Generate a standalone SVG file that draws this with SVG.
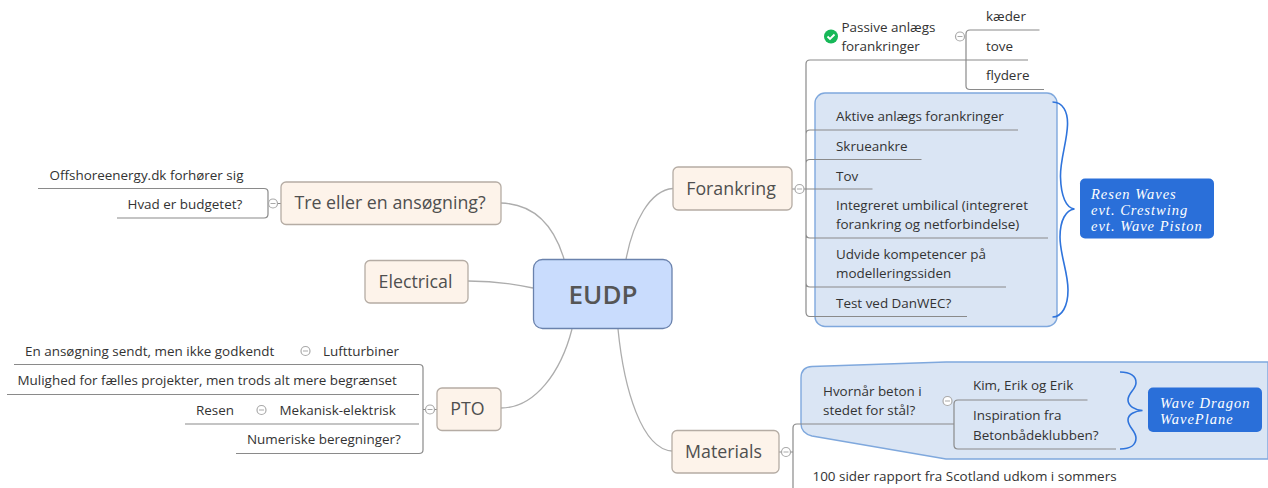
<svg xmlns="http://www.w3.org/2000/svg" width="1268" height="488" viewBox="0 0 1268 488">
<style>
text{font-family:"Open Sans","Noto Sans","Liberation Sans",sans-serif;fill:#333;font-size:13.45px}
.topic{fill:#fdf3ea;stroke:#b5aca4;stroke-width:1.3}
.tt{font-size:17.8px;fill:#4f4f4f;text-anchor:middle}
.line{fill:none;stroke:#8a8a8a;stroke-width:1.2}
.curve{fill:none;stroke:#adadad;stroke-width:1.3}
.col{fill:#fff;stroke:#a9a9a9;stroke-width:1.2}
.dash{stroke:#a9a9a9;stroke-width:1}
.bound{fill:#dae5f4;stroke:#7fa8dd;stroke-width:1.4}
.brace{fill:none;stroke:#2f74dc;stroke-width:1.6}
.sum{fill:#2a6fd9}
.st{font-family:"Liberation Serif",serif;font-style:italic;font-size:14.5px;fill:#fff;letter-spacing:1px}
</style>
<g id="boundaries">
<rect class="bound" x="815" y="93" width="242" height="233.500" rx="10"/>
<path class="bound" d="M812 366.500L946 362H1268V459H946L812 436Q801 433 801 424V378Q801 367 812 366.500Z"/>
</g>
<g id="connectors">
<path class="curve" d="M501 203C535 204 554 226 564 259"/>
<path class="curve" d="M673 188.500C650 190 633 222 626 259.500"/>
<path class="curve" d="M468 281C495 281 515 284 533 288"/>
<path class="curve" d="M501 408C535 408 561 372 572 329"/>
<path class="curve" d="M672 451C642 449 624 390 618 329"/>
<path class="line" d="M38 188.500H264Q268 188.500 268 192V214Q268 218 264 218H117M268 203.500H281"/>
<path class="line" d="M14 364.500H419Q423 364.500 423 368V450Q423 453.500 419 453.500H236M7 394.500H419M185 424H419M423 409.500H437"/>
<path class="line" d="M1028 60H810Q806 60 806 64V312Q806 316.500 810 316.500H967M1018 130H810Q806 130 806 134M921.500 159.500H810Q806 159.500 806 163M872.500 189H792M1048 238H810Q806 238 806 234M1006 287H810Q806 287 806 283"/>
<path class="line" d="M1039.500 30H970Q966 30 966 34V86Q966 89.500 970 89.500H1044"/>
<path class="line" d="M779 452H793M954 424H797Q793 424 793 428V488M1087.500 400H958Q954 400 954 404V445Q954 449 958 449H1116"/>
<path class="brace" d="M1052.500 102C1063 102 1068 112 1067.500 125C1067 142 1060 160 1060.500 177C1061 196 1066 208 1074.500 209C1066 210 1060 220 1060 237C1060 255 1068 272 1068 290C1068 306 1062 317 1052.500 317"/>
<path class="brace" d="M1120 372C1130 372 1136.500 376 1136 383C1135.500 390 1128 393 1128 400C1128 406 1135 410 1142.500 410.500C1135 411 1128 414 1128 420C1128 427 1136 431 1136 438C1136 445 1130 449 1120 449"/>
</g>
<g id="EUDP"><rect x="533.500" y="259.500" width="138.500" height="69" rx="9" fill="#c9dcfd" stroke="#6a82ad" stroke-width="1.300"/><text x="603" y="303.500" text-anchor="middle" style="font-size:26px;font-weight:600;fill:#555">EUDP</text></g>
<g id="tre"><rect class="topic" x="281" y="182" width="220" height="42.500" rx="5"/><text class="tt" x="390" y="209">Tre eller en ansøgning?</text>
<circle class="col" cx="273" cy="203.500" r="4.500"/><path class="dash" d="M270.500 203.500h5"/>
<text x="49.500" y="179.500">Offshoreenergy.dk forhører sig</text><text x="127.500" y="208.500">Hvad er budgetet?</text></g>
<g id="electrical"><rect class="topic" x="365" y="260.500" width="103" height="42.500" rx="5"/><text class="tt" x="415.500" y="287.500">Electrical</text></g>
<g id="pto"><rect class="topic" x="437" y="388" width="64" height="42.500" rx="5"/><text class="tt" x="467.500" y="415">PTO</text>
<circle class="col" cx="430" cy="409.500" r="4.500"/><path class="dash" d="M427.500 409.500h5"/>
<text x="25" y="356">En ansøgning sendt, men ikke godkendt</text><circle class="col" cx="305.500" cy="351" r="4.500"/><path class="dash" d="M303 351h5"/><text x="323" y="356">Luftturbiner</text>
<text x="17.500" y="385">Mulighed for fælles projekter, men trods alt mere begrænset</text>
<text x="196" y="415">Resen</text><circle class="col" cx="261.500" cy="410" r="4.500"/><path class="dash" d="M259 410h5"/><text x="279.500" y="415">Mekanisk-elektrisk</text>
<text x="247" y="444">Numeriske beregninger?</text></g>
<g id="forankring"><rect class="topic" x="673" y="167" width="119" height="43" rx="5"/><text class="tt" x="731" y="194.500">Forankring</text>
<circle class="col" cx="799.500" cy="189" r="4.500"/><path class="dash" d="M797 189h5"/>
<circle cx="831" cy="36.500" r="7" fill="#17b858"/><path d="M827.500 36.500l2.500 2.500 4.500-4.500" fill="none" stroke="#fff" stroke-width="1.800"/>
<text x="841.500" y="32">Passive anlægs</text><text x="841.500" y="51">forankringer</text>
<circle class="col" cx="960" cy="36.500" r="4.500"/><path class="dash" d="M957.500 36.500h5"/>
<text x="986" y="21">kæder</text><text x="986" y="51">tove</text><text x="986" y="80">flydere</text>
<text x="836" y="121">Aktive anlægs forankringer</text><text x="836" y="151">Skrueankre</text><text x="836" y="180.500">Tov</text>
<text x="836" y="210">Integreret umbilical (integreret</text><text x="836" y="229">forankring og netforbindelse)</text>
<text x="836" y="259">Udvide kompetencer på</text><text x="836" y="278">modelleringssiden</text><text x="836" y="308">Test ved DanWEC?</text>
<rect class="sum" x="1080" y="178.500" width="134" height="60" rx="5"/><text class="st" x="1091" y="198.500">Resen Waves</text><text class="st" x="1091" y="214.500">evt. Crestwing</text><text class="st" x="1091" y="230.500">evt. Wave Piston</text></g>
<g id="materials"><rect class="topic" x="672" y="430.500" width="107" height="42.500" rx="5"/><text class="tt" x="723.500" y="457.500">Materials</text>
<circle class="col" cx="786" cy="452" r="4.500"/><path class="dash" d="M783.500 452h5"/>
<text x="823" y="396">Hvornår beton i</text><text x="823" y="415">stedet for stål?</text>
<circle class="col" cx="947.500" cy="401" r="4.500"/><path class="dash" d="M945 401h5"/>
<text x="973" y="390">Kim, Erik og Erik</text><text x="973" y="420">Inspiration fra</text><text x="973" y="440">Betonbådeklubben?</text>
<rect class="sum" x="1148" y="387.500" width="114" height="44.500" rx="5"/><text class="st" x="1160" y="407.500">Wave Dragon</text><text class="st" x="1160" y="423.500">WavePlane</text>
<text x="812.500" y="481">100 sider rapport fra Scotland udkom i sommers</text></g>
</svg>
